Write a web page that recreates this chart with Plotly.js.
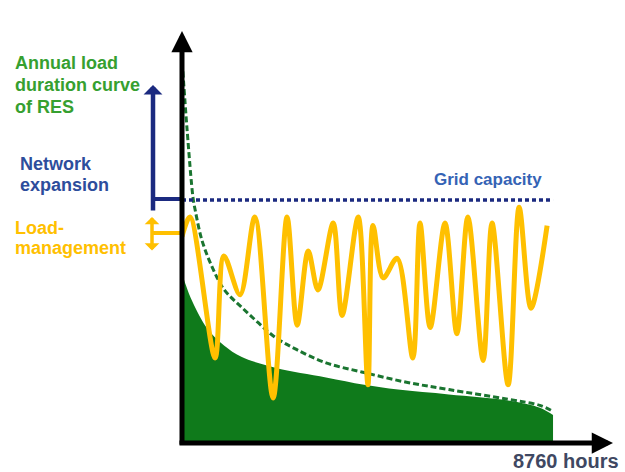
<!DOCTYPE html>
<html>
<head>
<meta charset="utf-8">
<script src="https://cdn.plot.ly/plotly-3.0.1.min.js"></script>
<style>
html,body{margin:0;padding:0;background:#fff;}
#chart{width:625px;height:472px;}
</style>
</head>
<body>
<div id="chart"></div>
<script>
// ---- data (hours of the year, load in % of grid capacity) ----
var resHours = [0, 90, 250, 600, 1000, 1400, 2200, 3400, 4300, 5100, 6300, 7700, 8450, 8760];
var resLoad  = [70, 65, 58, 47, 40, 35.5, 31, 27, 24, 22, 20, 17.5, 14.5, 11.5];

var resCurveHours = [20, 120, 260, 310, 470, 710, 1000, 1400, 1800, 2200, 2700, 3400, 4300, 5300, 6300, 7700, 8450, 8760];
var resCurveLoad  = [153, 129, 101, 96, 83.5, 72.5, 63, 56, 49.5, 43.5, 38.5, 33, 29, 25, 22, 18, 15.5, 13];

var demandHours = [0, 190, 780, 990, 1370, 1720, 2150, 2480, 2720, 2980, 3210, 3570, 3780, 4160, 4390, 4510, 4750, 5080, 5450, 5620, 5860, 6210, 6490, 6750, 7110, 7320, 7700, 7960, 8240, 8620];
var demandLoad  = [85, 93, 35, 77, 61, 93, 18.5, 93, 48.5, 79, 63, 90.5, 52.5, 93, 24, 89.5, 68, 76, 35, 90.5, 47.5, 90.5, 45, 93, 34, 90.5, 24, 97, 55.5, 89.5];

var gridHours = [0, 8760];
var gridLoad  = [100, 100];

var labels = {
  res: ["Annual load", "duration curve", "of RES"],
  net: ["Network", "expansion"],
  lm: ["Load-", "management"],
  grid: "Grid capacity",
  xEnd: "8760 hours"
};

// ---- styles ----
var FONT = "Liberation Sans, Arial, sans-serif";
var C_FILL = "#0f7a1b", C_DASH = "#1a7530", C_YEL = "#ffc000", C_NAVY = "#1b2a80",
    C_TXT_G = "#36a030", C_TXT_B = "#2d4d9c", C_TXT_GRID = "#3563b5", C_TXT_X = "#3f4862";

var traces = [
  {x: resHours, y: resLoad, type: "scatter", mode: "lines", line: {width: 0, shape: "spline", color: C_FILL},
   fill: "tozeroy", fillcolor: C_FILL, hoverinfo: "skip"},
  {x: resCurveHours, y: resCurveLoad, type: "scatter", mode: "lines",
   line: {width: 3, color: C_DASH, dash: "6px,3px", shape: "spline"}, hoverinfo: "skip"},
  {x: gridHours, y: gridLoad, type: "scatter", mode: "lines",
   line: {width: 3.5, color: C_NAVY, dash: "4px,3px"}, hoverinfo: "skip"},
  {x: demandHours, y: demandLoad, type: "scatter", mode: "lines",
   line: {width: 5, color: C_YEL, shape: "spline", smoothing: 0.9}, hoverinfo: "skip"}
];

// pixel helpers for decorations (plot area: left 182, right 613, top 28, bottom 443)
function px(x){ return (x - 182) / 431; }
function py(y){ return (443 - y) / 415; }

function txt(t, x, y, color, size, anchor){
  return {text: t, xref: "paper", yref: "paper", x: px(x), y: py(y), xanchor: anchor || "left", yanchor: "middle",
          showarrow: false, font: {family: FONT, size: size, color: color, weight: "bold"}};
}

var annotations = [
  // axes
  {xref: "paper", yref: "paper", x: px(182), y: py(31), ax: 0, ay: 415, axref: "pixel", ayref: "pixel",
   text: "", showarrow: true, arrowhead: 2, arrowsize: 0.85, arrowwidth: 5, arrowcolor: "#000", standoff: 0},
  {xref: "paper", yref: "paper", x: px(613), y: py(443), ax: -435, ay: 0,
   text: "", showarrow: true, arrowhead: 2, arrowsize: 0.85, arrowwidth: 5, arrowcolor: "#000", standoff: 0},
  // network expansion bracket
  {xref: "paper", yref: "paper", x: px(153), y: py(85), ax: 0, ay: 127,
   text: "", showarrow: true, arrowhead: 1, arrowsize: 0.7, arrowwidth: 4.5, arrowcolor: C_NAVY, standoff: 0},
  // load management double arrow
  {xref: "paper", yref: "paper", x: px(152), y: py(217), ax: 0, ay: 35,
   text: "", showarrow: true, arrowhead: 1, arrowside: "end+start", arrowsize: 0.7, arrowwidth: 3.5,
   arrowcolor: C_YEL, standoff: 0, startstandoff: 0},
  // texts
  txt(labels.res[0], 13, 63, C_TXT_G, 18),
  txt(labels.res[1], 13, 85, C_TXT_G, 18),
  txt(labels.res[2], 13, 107, C_TXT_G, 18),
  txt(labels.net[0], 18, 164, C_TXT_B, 18),
  txt(labels.net[1], 18, 185, C_TXT_B, 18),
  txt(labels.lm[0], 13, 228, C_YEL, 18),
  txt(labels.lm[1], 13, 248, C_YEL, 18),
  txt(labels.grid, 432, 179, C_TXT_GRID, 17),
  txt(labels.xEnd, 621, 461, C_TXT_X, 20, "right")
];

var shapes = [
  {type: "line", xref: "paper", yref: "paper", x0: px(153), x1: px(182), y0: py(199), y1: py(199),
   line: {color: C_NAVY, width: 4}},
  {type: "line", xref: "paper", yref: "paper", x0: px(152), x1: px(182), y0: py(233), y1: py(233),
   line: {color: C_YEL, width: 4}}
];

var layout = {
  width: 625, height: 472,
  margin: {l: 182, r: 12, t: 28, b: 29, pad: 0},
  paper_bgcolor: "#ffffff", plot_bgcolor: "#ffffff",
  showlegend: false,
  xaxis: {range: [0, 10176], visible: false, fixedrange: true},
  yaxis: {range: [0, 170.8], visible: false, fixedrange: true},
  annotations: annotations,
  shapes: shapes
};

Plotly.newPlot("chart", traces, layout, {staticPlot: true, displayModeBar: false});
</script>
</body>
</html>
